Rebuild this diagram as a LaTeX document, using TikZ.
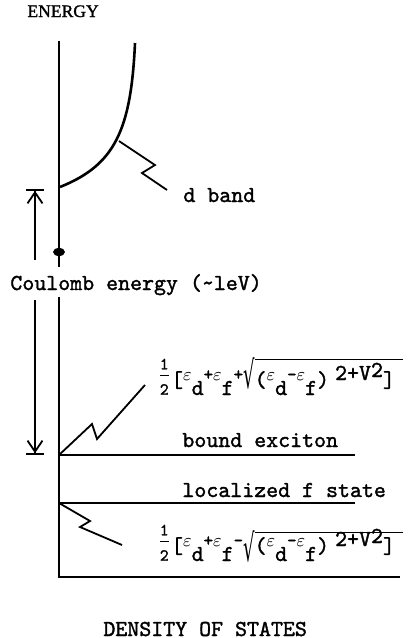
\documentclass[tikz,border=0pt]{standalone}
\usepackage{fontspec}
\setmainfont{Liberation Serif}[FakeBold=1.2]
\setmonofont{lmmono10-regular}[Extension=.otf, FakeBold=1.5]
\newfontfamily\radfont{DejaVu Sans}
\usepackage{graphicx}
\usetikzlibrary{arrows.meta, positioning, calc}

% typewriter pieces of the level formulas
\newcommand{\eps}{$\varepsilon$}
\newcommand{\tsm}[1]{\raisebox{3.5pt}{\fontsize{9}{9}\selectfont #1}}
\newcommand{\tdn}[1]{\raisebox{-4pt}{#1}}
\newcommand{\tup}[1]{\raisebox{3.5pt}{#1}}
\newcommand{\hlf}{\raisebox{3pt}{$\frac{\mbox{\fontsize{8.5}{8}\selectfont\rule[-2.5pt]{0pt}{1pt}1}}{\mbox{\fontsize{8.5}{8}\selectfont\rule{0pt}{9pt}2}}$}}
\newcommand{\rad}[2]{\raisebox{#1}{\scalebox{0.9}[1.9]{\radfont\fontsize{10}{10}\selectfont √}}\rlap{\rule[#2]{74pt}{0.6pt}}}
\newcommand{\eform}[3]{\hlf[\tsm{\eps}\tdn{d}\tsm{+\eps}\tdn{f}\tsm{#1}\rad{#2}{#3}(\tsm{\eps}\tdn{d}\tsm{-\eps}\tdn{f})\hspace{3pt}\tup{2+V}\raisebox{5pt}{2}]}

\tikzset{
  ax/.style={line width=1.4pt},
  band/.style={line width=1.3pt},
  lvl/.style={line width=1pt},
  zz/.style={line width=0.9pt, line join=miter},
  carr/.style={line width=0.9pt,
    -{Straight Barb[length=5.5pt,width=7.5pt] Bar[width=9pt]}},
  lbl/.style={anchor=base west, inner sep=0pt,
    font=\ttfamily\fontsize{11.4}{13}\selectfont}
}

\begin{document}
\begin{tikzpicture}[x=0.5pt, y=-0.5pt]
  \useasboundingbox (0,0) rectangle (417,638);

  % upper half: d band
  \node[lbl, font=\rmfamily\fontsize{8.8}{10}\selectfont] (energy) at (27,17) {ENERGY};
  \coordinate (atop) at (59,41);
  \coordinate (abrk) at (59,267);
  \draw[ax] (atop) -- (abrk);
  \fill (59,252) ellipse (6 and 4);

  \coordinate (dbot) at (60,187);
  \coordinate (dtop) at (135,43);
  \draw[band] (dbot) .. controls (115,165) and (131,130) .. (dtop);

  \coordinate (dk) at (119,141);
  \coordinate (dz) at (167,190);
  \draw[zz] (dk) -- ++(36,24) -- ++(-13,8) -- (dz);
  \node[lbl] (dband) at (183,202) {d band};

  % Coulomb energy
  \node[lbl] (coul) at (10,290) {Coulomb energy (\textasciitilde leV)};
  \coordinate (cu0) at (35,260);
  \coordinate (cu1) at (35,189);
  \draw[carr] (cu0) -- (cu1);
  \coordinate (cd0) at (35,300);
  \coordinate (cd1) at (35,455);
  \draw[carr] (cd0) -- (cd1);

  % lower half: levels
  \coordinate (btop) at (59,297);
  \coordinate (o)    at (59,577);
  \coordinate (xend) at (400,577);
  \draw[ax] (btop) -- (o) -- (xend);

  \coordinate (exl) at (59,455);
  \coordinate (exr) at (355,455);
  \draw[lvl] (exl) -- (exr);
  \node[lbl] (exc) at (182,447) {bound exciton};

  \coordinate (lfl) at (59,503);
  \coordinate (lfr) at (355,503);
  \draw[lvl] (lfl) -- (lfr);
  \node[lbl] (loc) at (182,497) {localized f state};

  \node[lbl] (eplus)  at (157,387) {\eform{+}{-0.5pt}{13.5pt}};
  \node[lbl] (eminus) at (157,553) {\eform{-}{-4pt}{10pt}};
  \coordinate (pz) at (145,385);
  \coordinate (mz) at (122,545);
  \draw[zz] (exl) -- ++(33,-31) -- ++(5,15) -- (pz);
  \draw[zz] (lfl) -- ++(31,18) -- ++(-10,6) -- (mz);

  \node[lbl] (dos) at (103,636) {DENSITY OF STATES};
\end{tikzpicture}
\end{document}
